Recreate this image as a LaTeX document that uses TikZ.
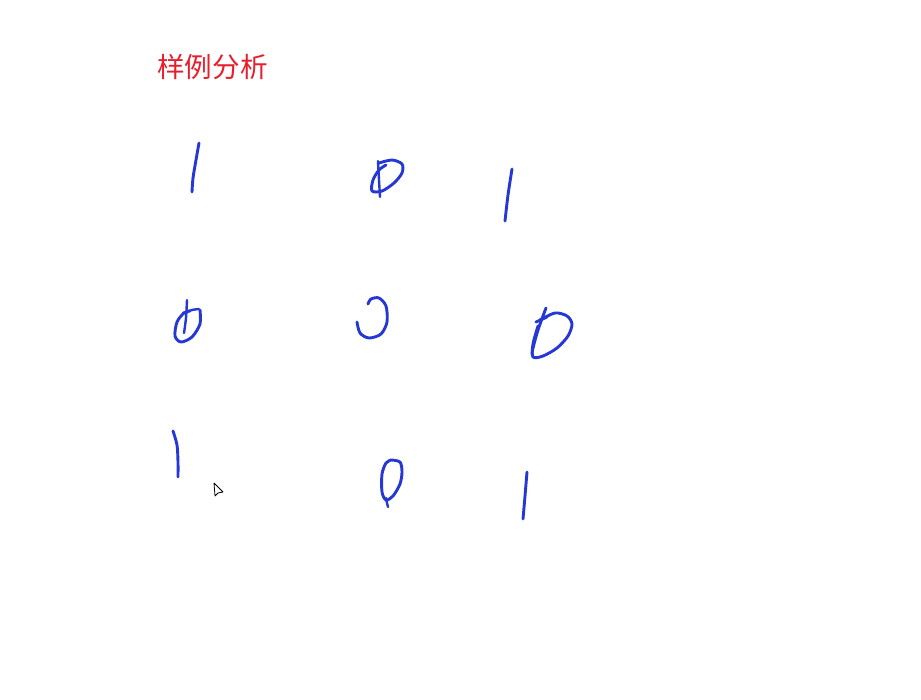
\documentclass[tikz,border=0pt]{standalone}
\usepackage{fontspec}
\newfontfamily\cjk{Noto Sans CJK SC}
\definecolor{titlered}{RGB}{232,30,45}
\definecolor{ink}{RGB}{38,56,212}
\begin{document}
\begin{tikzpicture}[x=1pt,y=-1pt,
  stroke/.style={draw=ink,line width=2.9pt,line cap=round,line join=round},
  thin stroke/.style={draw=ink,line width=2.4pt,line cap=round,line join=round}]
\useasboundingbox[fill=white] (0,0) rectangle (921,699);
\node[text=titlered,font=\cjk\fontsize{27.6}{32}\selectfont,anchor=west,inner sep=0pt] (title) at (157,67) {样例分析};

% row 1
\draw[stroke] plot[smooth] coordinates {(199,143) (196,160) (193,178) (192,192)};
\draw[stroke] plot[smooth] coordinates {(379,163) (392,160) (402,164) (402,173) (394,183) (382,191) (372,191) (373,180) (379,170) (386,165)};
\draw[thin stroke] plot[smooth] coordinates {(378,161) (379,180) (380,197)};
\draw[stroke] plot[smooth] coordinates {(512,169) (508,195) (505,221)};

% row 2
\draw[thin stroke] plot[smooth] coordinates {(187,300) (186,318) (184,333)};
\draw[thin stroke] plot[smooth] coordinates {(183,313) (192,310) (199,309)};
\draw[stroke] plot[smooth] coordinates {(200,310) (200,324) (192,337) (181,342) (175,336) (177,322) (184,313) (190,311)};
\draw[stroke] plot[smooth] coordinates {(357,322) (360,333) (369,338) (381,334) (387,322) (386,306) (379,298) (371,299) (368,304)};
\draw[stroke] plot[smooth] coordinates {(546,308) (538,330) (533,348) (532,354)};
\draw[stroke] plot[smooth] coordinates {(536,322) (547,317)};
\draw[stroke] plot[smooth] coordinates {(540,320) (555,313) (567,316) (572,324) (568,336) (557,348) (543,356) (533,357) (533,344) (538,326)};

% row 3
\draw[stroke] plot[smooth] coordinates {(173,431) (177,445) (178,462) (178,477)};
\draw[stroke] plot[smooth] coordinates {(391,460) (400,462) (402,472) (400,484) (393,496) (386,500) (382,492) (382,474) (386,463) (391,460)};
\draw[thin stroke] plot[smooth] coordinates {(386,498) (387,503) (388,507)};
\draw[stroke] plot[smooth] coordinates {(527,472) (525,496) (523,519)};

% mouse cursor
\draw[black,line width=0.8pt,fill=white,line join=round] (214,483) -- (215,496) -- (218,493) -- (223,492) -- cycle;
\end{tikzpicture}
\end{document}
